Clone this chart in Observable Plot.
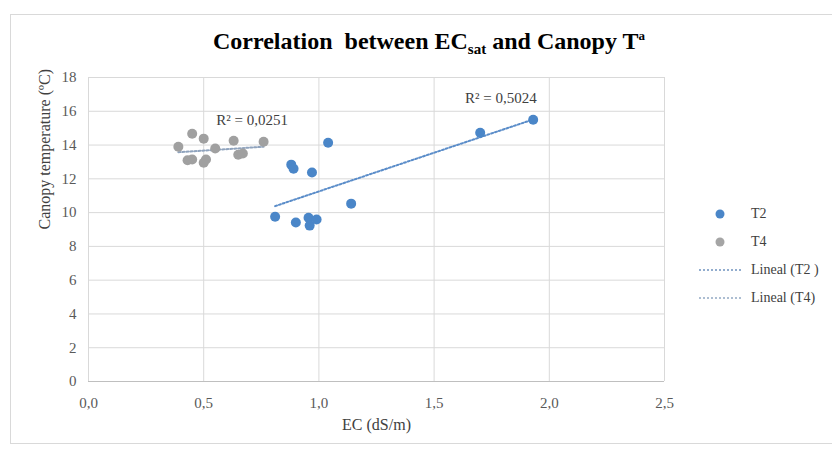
<!DOCTYPE html>
<html>
<head>
<meta charset="utf-8">
<script src="https://cdn.jsdelivr.net/npm/d3@7"></script>
<script src="https://cdn.jsdelivr.net/npm/@observablehq/plot@0.6"></script>
<style>
  html, body { margin: 0; padding: 0; background: #fff; }
  #wrap { position: relative; width: 832px; height: 449px; overflow: hidden; font-family: "Liberation Serif", "Times New Roman", serif; }
  #frame { position: absolute; left: 10px; top: 14px; width: 840px; height: 430px; border: 1px solid #d9d9d9; box-sizing: border-box; }
  #title { position: absolute; left: 0; top: 28px; width: 858px; text-align: center; font-weight: bold; font-size: 24px; color: #000; white-space: nowrap; }
  #title sub { font-size: 15px; vertical-align: -5px; line-height: 0; }
  #title sup { font-size: 13px; vertical-align: 9px; line-height: 0; }
  #chart { position: absolute; left: 0; top: 0; }
  #chart svg text { font-family: "Liberation Serif", "Times New Roman", serif; }
  .leg { position: absolute; left: 697px; font-size: 14px; color: #404040; }
  .leg .sym { position: absolute; left: 0; top: 0; width: 48px; height: 18px; }
  .leg span.t { position: absolute; left: 54px; top: 0; white-space: nowrap; line-height: 18px; }
</style>
</head>
<body>
<div id="wrap">
  <div id="frame"></div>
  <div id="chart"></div>
  <div id="title">Correlation&nbsp; between EC<sub>sat</sub> and Canopy T<sup>a</sup></div>
  <div class="leg" style="top:205px"><svg class="sym" width="48" height="18"><circle cx="23" cy="9" r="4.5" fill="#4a86c8"/></svg><span class="t">T2</span></div>
  <div class="leg" style="top:233px"><svg class="sym" width="48" height="18"><circle cx="23" cy="9" r="4.5" fill="#a5a5a5"/></svg><span class="t">T4</span></div>
  <div class="leg" style="top:261px"><svg class="sym" width="48" height="18"><line x1="2" x2="46" y1="9" y2="9" stroke="#6f93bf" stroke-width="1.5" stroke-dasharray="2,2"/></svg><span class="t">Lineal (T2 )</span></div>
  <div class="leg" style="top:289px"><svg class="sym" width="48" height="18"><line x1="2" x2="46" y1="9" y2="9" stroke="#93a9c4" stroke-width="1.5" stroke-dasharray="2,2"/></svg><span class="t">Lineal (T4)</span></div>
</div>
<script>
// Data
const t2x = [1.93, 1.70, 1.04, 0.88, 0.89, 0.97, 1.14, 0.81, 0.90, 0.955, 0.96, 0.99];
const t2y = [15.5, 14.73, 14.14, 12.84, 12.6, 12.37, 10.53, 9.76, 9.41, 9.7, 9.23, 9.59];
const t4x = [0.39, 0.45, 0.50, 0.55, 0.43, 0.45, 0.50, 0.51, 0.63, 0.65, 0.67, 0.76];
const t4y = [13.9, 14.67, 14.38, 13.8, 13.1, 13.15, 12.95, 13.15, 14.26, 13.43, 13.5, 14.2];
const xTicks = [0, 0.5, 1.0, 1.5, 2.0, 2.5];
const yTicks = [0, 2, 4, 6, 8, 10, 12, 14, 16, 18];
const r2Labels = ["R² = 0,0251", "R² = 0,5024"];
const r2X = [0.71, 1.79];
const r2Y = [15.5, 16.75];

const t2 = t2x.map((x, i) => ({x, y: t2y[i]}));
const t4 = t4x.map((x, i) => ({x, y: t4y[i]}));
const ann = r2Labels.map((t, i) => ({t, x: r2X[i], y: r2Y[i]}));
const fmt = d => d.toFixed(1).replace(".", ",");
const serif = "'Liberation Serif', 'Times New Roman', serif";

const chart = Plot.plot({
  width: 832,
  height: 449,
  marginLeft: 88,
  marginRight: 168,
  marginTop: 77,
  marginBottom: 68,
  style: {fontFamily: serif, fontSize: "15px", color: "#595959", background: "transparent"},
  x: {domain: [0, 2.5], label: null},
  y: {domain: [0, 18], label: null},
  marks: [
    Plot.gridX(xTicks, {stroke: "#d9d9d9", strokeOpacity: 1}),
    Plot.gridY(yTicks, {stroke: "#d9d9d9", strokeOpacity: 1}),
    Plot.ruleY([0], {stroke: "#bfbfbf"}),
    Plot.ruleX([0], {stroke: "#d9d9d9"}),
    Plot.axisX({ticks: xTicks, tickFormat: fmt, tickSize: 0, tickPadding: 16, fill: "#595959", fontFamily: serif, fontSize: 15, label: null}),
    Plot.axisY({ticks: yTicks, tickSize: 0, tickPadding: 12, fill: "#595959", fontFamily: serif, fontSize: 15, label: null}),
    Plot.linearRegressionY(t2, {x: "x", y: "y", ci: 0, stroke: "#5b8dc9", strokeWidth: 2, strokeDasharray: "2,2"}),
    Plot.linearRegressionY(t4, {x: "x", y: "y", ci: 0, stroke: "#8fa3bd", strokeWidth: 2, strokeDasharray: "2,2"}),
    Plot.dot(t4, {x: "x", y: "y", r: 5, fill: "#a0a0a0"}),
    Plot.dot(t2, {x: "x", y: "y", r: 5, fill: "#4a86c8"}),
    Plot.text(ann, {x: "x", y: "y", text: "t", fill: "#404040", fontSize: 15, fontFamily: serif}),
    Plot.text(["EC (dS/m)"], {frameAnchor: "bottom", dy: 48, fill: "#404040", fontSize: 16, fontFamily: serif}),
    Plot.text(["Canopy temperature (ºC)"], {frameAnchor: "left", dx: -44, rotate: -90, fill: "#404040", fontSize: 16, fontFamily: serif})
  ]
});
document.getElementById("chart").appendChild(chart);
</script>
</body>
</html>
